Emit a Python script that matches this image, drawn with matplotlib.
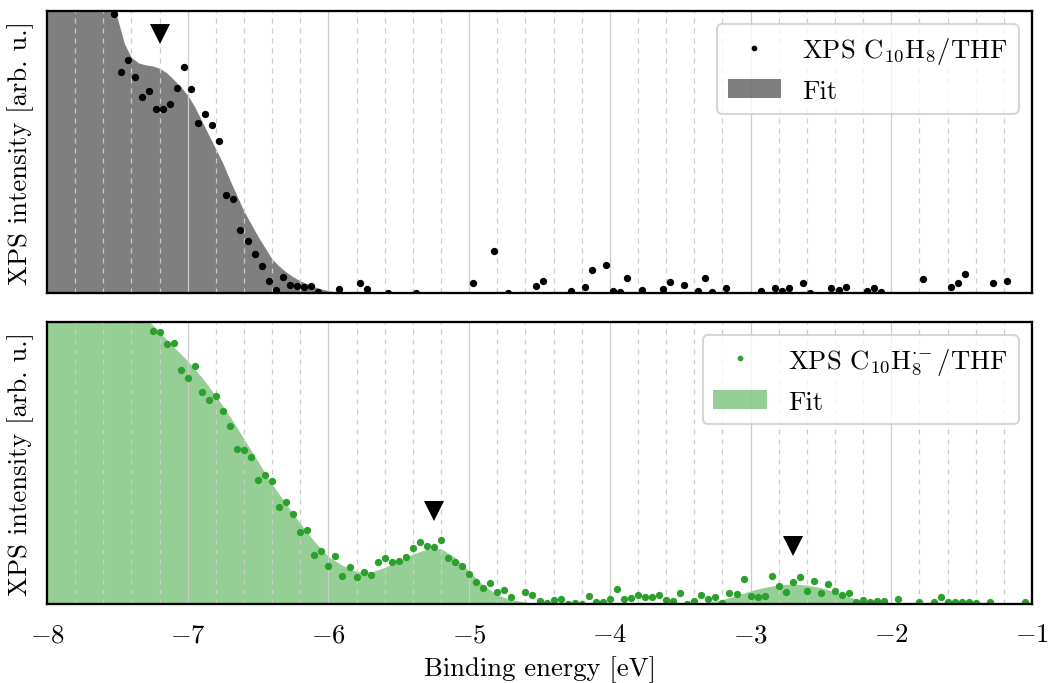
import numpy as np
import matplotlib
matplotlib.use("Agg")
import matplotlib.pyplot as plt
from matplotlib.ticker import MultipleLocator

plt.rcParams['font.family'] = 'serif'
plt.rcParams['font.serif'] = ['cmr10']
plt.rcParams['mathtext.fontset'] = 'cm'
plt.rcParams['axes.formatter.use_mathtext'] = True
plt.rcParams['font.size'] = 12.8

# neutral naphthalene, measured points
top_x = [-7.525, -7.475, -7.425, -7.375, -7.325, -7.275, -7.225, -7.175, -7.125, -7.075,
         -7.025, -6.975, -6.925, -6.875, -6.825, -6.775, -6.725, -6.675, -6.625, -6.575,
         -6.525, -6.475, -6.425, -6.375, -6.325, -6.275, -6.225, -6.175, -6.125, -6.075,
         -5.925, -5.775, -5.725, -5.575, -5.375, -4.975, -4.825, -4.725, -4.525, -4.475,
         -4.275, -4.175, -4.125, -4.025, -3.975, -3.925, -3.875, -3.775, -3.625, -3.575,
         -3.475, -3.375, -3.325, -3.275, -3.175, -2.925, -2.825, -2.775, -2.725, -2.625,
         -2.575, -2.425, -2.375, -2.325, -2.175, -2.125, -2.075, -1.775, -1.575, -1.525,
         -1.475, -1.275, -1.175]
top_y = [0.989, 0.782, 0.826, 0.766, 0.694, 0.715, 0.651, 0.652, 0.669, 0.726,
         0.802, 0.723, 0.601, 0.636, 0.597, 0.540, 0.348, 0.333, 0.225, 0.183,
         0.139, 0.094, 0.042, 0.010, 0.057, 0.028, 0.024, 0.021, 0.024, 0.004,
         0.014, 0.036, 0.015, 0.000, 0.001, 0.035, 0.148, 0.001, 0.025, 0.043,
         0.007, 0.020, 0.083, 0.100, 0.008, 0.002, 0.054, 0.010, 0.013, 0.038,
         0.028, 0.008, 0.052, 0.004, 0.019, 0.007, 0.017, 0.008, 0.018, 0.037,
         0.000, 0.017, 0.011, 0.020, 0.008, 0.017, 0.002, 0.050, 0.022, 0.037,
         0.067, 0.036, 0.042]

# fit curve
top_fit_x = [-8.00, -7.95, -7.90, -7.85, -7.80, -7.75, -7.70, -7.65, -7.60, -7.55,
             -7.50, -7.45, -7.40, -7.35, -7.30, -7.25, -7.20, -7.15, -7.10, -7.05,
             -7.00, -6.95, -6.90, -6.85, -6.80, -6.75, -6.70, -6.65, -6.60, -6.55,
             -6.50, -6.45, -6.40, -6.35, -6.30, -6.25, -6.20, -6.15, -6.10, -6.05,
             -6.00, -5.95, -5.90, -5.85, -5.80]
top_fit_y = [1.90, 1.80, 1.70, 1.60, 1.49, 1.38, 1.27, 1.17, 1.09, 1.03,
             0.975, 0.884, 0.835, 0.816, 0.809, 0.805, 0.797, 0.781, 0.757, 0.732,
             0.701, 0.660, 0.610, 0.560, 0.510, 0.460, 0.400, 0.345, 0.290, 0.245,
             0.200, 0.160, 0.120, 0.095, 0.074, 0.057, 0.043, 0.032, 0.022, 0.014,
             0.008, 0.004, 0.002, 0.001, 0.000]

# radical anion, measured points
bot_x = [-7.25, -7.20, -7.15, -7.10, -7.05, -7.00, -6.95, -6.90, -6.85, -6.80,
         -6.75, -6.70, -6.65, -6.60, -6.55, -6.50, -6.45, -6.40, -6.35, -6.30,
         -6.25, -6.20, -6.15, -6.10, -6.05, -6.00, -5.95, -5.90, -5.85, -5.80,
         -5.75, -5.70, -5.65, -5.60, -5.55, -5.50, -5.45, -5.40, -5.35, -5.30,
         -5.25, -5.20, -5.15, -5.10, -5.05, -5.00, -4.95, -4.90, -4.85, -4.80,
         -4.75, -4.70, -4.60, -4.55, -4.50, -4.45, -4.40, -4.35, -4.30, -4.25,
         -4.20, -4.15, -4.10, -4.05, -4.00, -3.95, -3.90, -3.85, -3.80, -3.75,
         -3.70, -3.65, -3.60, -3.55, -3.50, -3.45, -3.40, -3.35, -3.30, -3.25,
         -3.20, -3.15, -3.10, -3.05, -3.00, -2.95, -2.90, -2.85, -2.80, -2.75,
         -2.70, -2.65, -2.60, -2.55, -2.50, -2.45, -2.40, -2.35, -2.30, -2.25,
         -2.20, -2.15, -2.10, -2.05, -1.95, -1.80, -1.70, -1.65, -1.60, -1.55,
         -1.50, -1.45, -1.40, -1.30, -1.05]
bot_y = [0.968, 0.964, 0.922, 0.926, 0.830, 0.800, 0.843, 0.752, 0.725, 0.736,
         0.686, 0.630, 0.550, 0.545, 0.523, 0.441, 0.458, 0.435, 0.344, 0.360,
         0.320, 0.255, 0.263, 0.173, 0.187, 0.133, 0.171, 0.100, 0.130, 0.094,
         0.112, 0.102, 0.148, 0.163, 0.149, 0.151, 0.166, 0.200, 0.220, 0.206,
         0.202, 0.226, 0.163, 0.148, 0.134, 0.108, 0.077, 0.058, 0.073, 0.042,
         0.051, 0.026, 0.043, 0.031, 0.011, 0.002, 0.013, 0.018, 0.001, 0.004,
         0.001, 0.027, 0.007, 0.007, 0.018, 0.053, 0.017, 0.020, 0.032, 0.026,
         0.025, 0.033, 0.015, 0.011, 0.039, 0.001, 0.010, 0.032, 0.018, 0.024,
         0.005, 0.039, 0.034, 0.087, 0.029, 0.024, 0.027, 0.101, 0.064, 0.042,
         0.079, 0.094, 0.046, 0.080, 0.039, 0.072, 0.045, 0.032, 0.038, 0.008,
         0.014, 0.006, 0.012, 0.012, 0.019, 0.006, 0.007, 0.026, 0.007, 0.008,
         0.007, 0.006, 0.002, 0.008, 0.007]

bot_fit_x = [-8.0, -7.9, -7.8, -7.7, -7.6, -7.5, -7.4, -7.3, -7.2, -7.1,
             -7.0, -6.9, -6.8, -6.7, -6.6, -6.5, -6.4, -6.3, -6.2, -6.1,
             -6.0, -5.9, -5.8, -5.7, -5.6, -5.5, -5.4, -5.3, -5.2, -5.1,
             -5.0, -4.9, -4.8, -4.7, -4.6, -4.5, -4.4, -4.3, -4.2, -4.1,
             -4.0, -3.9, -3.8, -3.7, -3.6, -3.5, -3.4, -3.3, -3.2, -3.1,
             -3.0, -2.9, -2.8, -2.7, -2.6, -2.5, -2.4, -2.3, -2.2, -2.1,
             -2.0, -1.9, -1.8, -1.7, -1.6, -1.5, -1.4, -1.3, -1.2, -1.1, -1.0]
bot_fit_y = [1.40, 1.35, 1.29, 1.23, 1.17, 1.11, 1.06, 1.015, 0.965, 0.912,
             0.862, 0.804, 0.738, 0.665, 0.585, 0.505, 0.424, 0.354, 0.286, 0.222,
             0.168, 0.137, 0.115, 0.113, 0.130, 0.154, 0.177, 0.195, 0.196, 0.165,
             0.116, 0.067, 0.032, 0.015, 0.007, 0.002, 0.0, 0.0, 0.0, 0.0,
             0.0, 0.0, 0.0, 0.0, 0.0, 0.001, 0.002, 0.005, 0.016, 0.030,
             0.047, 0.059, 0.068, 0.071, 0.067, 0.058, 0.043, 0.025, 0.010, 0.003,
             0.0, 0.0, 0.0, 0.0, 0.0, 0.0, 0.0, 0.0, 0.0, 0.0, 0.0]

# peak markers
top_peaks_x = [-7.2]
top_peaks_y = [0.92]
bot_peaks_x = [-5.25, -2.7]
bot_peaks_y = [0.33, 0.205]

fig, (ax1, ax2) = plt.subplots(2, 1, sharex=True, figsize=(1049 / 150, 684 / 150), dpi=150)
fig.subplots_adjust(left=0.0448, right=0.9838, top=0.9825, bottom=0.1155, hspace=0.103)

green = '#2ca02c'

ax1.fill_between(top_fit_x, 0, top_fit_y, color='k', alpha=0.5, lw=0, label='Fit')
ax1.plot(top_x, top_y, 'o', color='k', ms=2.5, ls='none', label=r'XPS C$_{10}$H$_8$/THF')
ax1.plot(top_peaks_x, top_peaks_y, 'v', color='k', ms=9.5, mew=0)

ax2.fill_between(bot_fit_x, 0, bot_fit_y, color=green, alpha=0.5, lw=0, label='Fit')
ax2.plot(bot_x, bot_y, 'o', color=green, ms=2.5, ls='none',
         label=r'XPS C$_{10}$H$_8^{\cdot\!-}$/THF')
ax2.plot(bot_peaks_x, bot_peaks_y, 'v', color='k', ms=9.5, mew=0)

for ax in (ax1, ax2):
    ax.set_xlim(-8, -1)
    ax.set_ylim(0, 1)
    ax.set_yticks([])
    ax.xaxis.set_major_locator(MultipleLocator(1))
    ax.xaxis.set_minor_locator(MultipleLocator(0.2))
    ax.set_axisbelow('line')
    ax.grid(True, which='major', axis='x', color='0.8', lw=0.6)
    ax.grid(True, which='minor', axis='x', color='0.8', lw=0.6, ls=(0, (4, 4)))
    ax.tick_params(which='both', length=0, pad=9)
    for s in ax.spines.values():
        s.set_linewidth(1.1)
    ax.set_ylabel('XPS intensity [arb. u.]', labelpad=6)
    h, l = ax.get_legend_handles_labels()
    ax.legend(h[::-1], l[::-1], loc='upper right', markerscale=0.7)

ax2.set_xlabel('Binding energy [eV]')

fig.savefig('out.png', dpi=150)
